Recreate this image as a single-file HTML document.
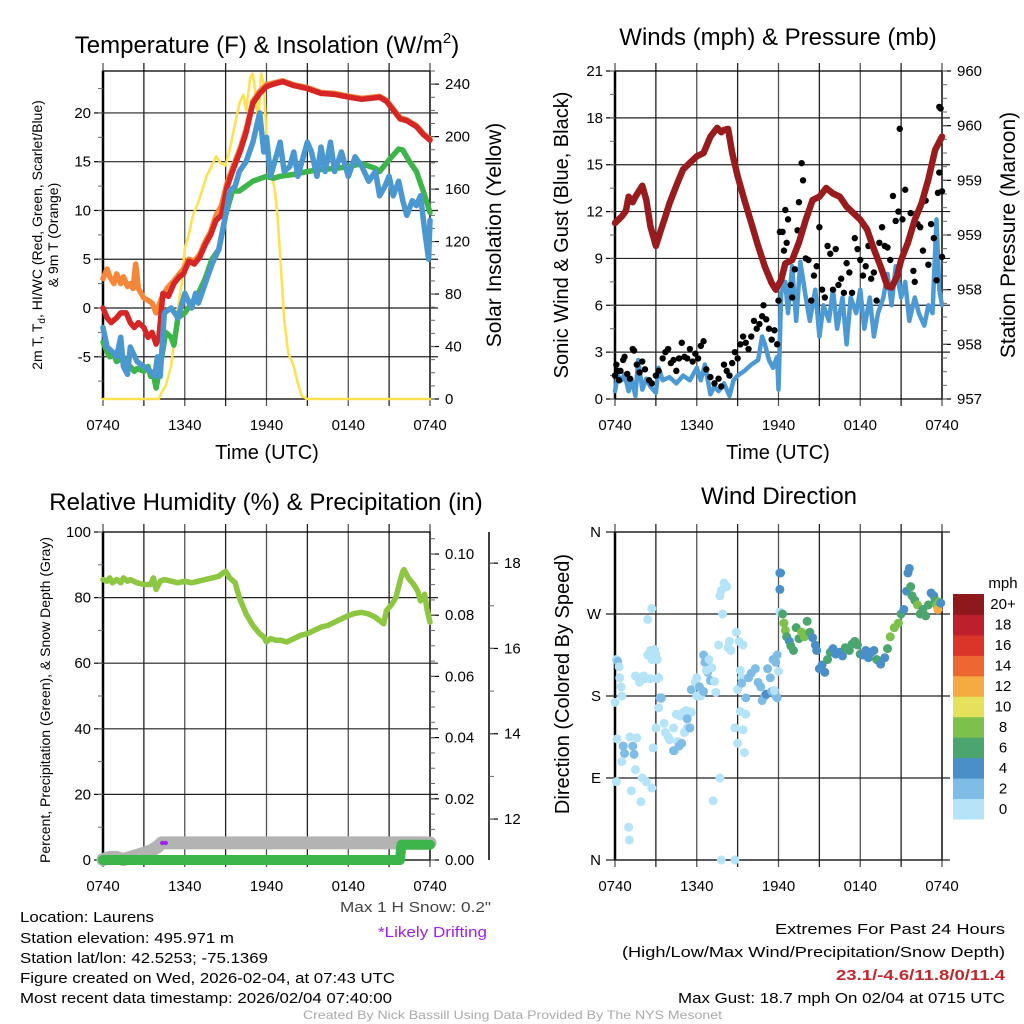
<!DOCTYPE html>
<html><head><meta charset="utf-8"><style>
html,body{margin:0;padding:0;background:#fff;}
svg{display:block;font-family:"Liberation Sans",sans-serif;}
</style></head><body>
<svg id="chart" width="1024" height="1024" viewBox="0 0 1024 1024" xmlns="http://www.w3.org/2000/svg">
<rect x="0" y="0" width="1024" height="1024" fill="#fff"/>
<text x="267" y="53" font-size="24" text-anchor="middle">Temperature (F) &amp; Insolation (W/m<tspan font-size="15" dy="-10">2</tspan><tspan dy="10">)</tspan></text>
<text x="778" y="45" font-size="24" text-anchor="middle">Winds (mph) &amp; Pressure (mb)</text>
<text x="266" y="510" font-size="24" text-anchor="middle">Relative Humidity (%) &amp; Precipitation (in)</text>
<text x="779" y="504" font-size="24" text-anchor="middle">Wind Direction</text>
<text x="267" y="459" font-size="20" text-anchor="middle">Time (UTC)</text>
<text x="778" y="459" font-size="20" text-anchor="middle">Time (UTC)</text>
<text transform="translate(42,235) rotate(-90)" font-size="14" text-anchor="middle">2m T, T<tspan font-size="10" dy="3">d</tspan><tspan dy="-3">, HI/WC (Red, Green, Scarlet/Blue)</tspan></text>
<text transform="translate(58,235) rotate(-90)" font-size="14" text-anchor="middle">&amp; 9m T (Orange)</text>
<text transform="translate(501,235) rotate(-90)" font-size="21" text-anchor="middle">Solar Insolation (Yellow)</text>
<text transform="translate(568,235) rotate(-90)" font-size="20" text-anchor="middle">Sonic Wind &amp; Gust (Blue, Black)</text>
<text transform="translate(1015,235) rotate(-90)" font-size="21" text-anchor="middle">Station Pressure (Maroon)</text>
<text transform="translate(50,700) rotate(-90)" font-size="14" text-anchor="middle">Percent, Precipitation (Green), &amp; Snow Depth (Gray)</text>
<text transform="translate(569,684) rotate(-90)" font-size="20" text-anchor="middle">Direction (Colored By Speed)</text>
<text x="1003" y="588" font-size="15" text-anchor="middle">mph</text>

<g font-size="15">
<text x="20" y="922" textLength="134" lengthAdjust="spacingAndGlyphs">Location: Laurens</text>
<text x="20" y="943" textLength="214" lengthAdjust="spacingAndGlyphs">Station elevation: 495.971 m</text>
<text x="20" y="963" textLength="248" lengthAdjust="spacingAndGlyphs">Station lat/lon: 42.5253; -75.1369</text>
<text x="20" y="983" textLength="375" lengthAdjust="spacingAndGlyphs">Figure created on Wed, 2026-02-04, at 07:43 UTC</text>
<text x="20" y="1003" textLength="372" lengthAdjust="spacingAndGlyphs">Most recent data timestamp: 2026/02/04 07:40:00</text>
<text x="340" y="912" textLength="151" lengthAdjust="spacingAndGlyphs" fill="#444">Max 1 H Snow: 0.2"</text>
<text x="378" y="937" textLength="109" lengthAdjust="spacingAndGlyphs" fill="#a020f0">*Likely Drifting</text>
<text x="1005" y="934" text-anchor="end" textLength="230" lengthAdjust="spacingAndGlyphs">Extremes For Past 24 Hours</text>
<text x="1005" y="957" text-anchor="end" textLength="383" lengthAdjust="spacingAndGlyphs">(High/Low/Max Wind/Precipitation/Snow Depth)</text>
<text x="1005" y="980" text-anchor="end" textLength="169" lengthAdjust="spacingAndGlyphs" font-weight="bold" fill="#c0282d">23.1/-4.6/11.8/0/11.4</text>
<text x="1005" y="1003" text-anchor="end" textLength="327" lengthAdjust="spacingAndGlyphs">Max Gust: 18.7 mph On 02/04 at 0715 UTC</text>
<text x="303" y="1019" font-size="12" textLength="419" lengthAdjust="spacingAndGlyphs" fill="#aaa">Created By Nick Bassill Using Data Provided By The NYS Mesonet</text>
</g>
</svg>
<script>
// ---------- DATA ----------
const timeTickLabels = ["0740","1340","1940","0140","0740"];
const tempTicks = [20,15,10,5,0,-5];
const solarTicks = [0,40,80,120,160,200,240];
const windTicks = [0,3,6,9,12,15,18,21];
const pressureTicks = [957,957.5,958,958.5,959,959.5,960];
const rhTicks = [0,20,40,60,80,100];
const precipTicks = [0,0.02,0.04,0.06,0.08,0.10];
const snowTicks = [12,14,16,18];
const dirTicks = [0,90,180,270,360];
const dirLabels = ["N","E","S","W","N"];
const speedBinLabels = ["0","2","4","6","8","10","12","14","16","18","20+"];
const speedBinColors = ["#b5e3f8","#7fbde6","#4a8fc8","#4ba56f","#7dc14c","#e5e15a","#f6aa42","#ee6631","#db3429","#bd1f2d","#8e191c"];

const redHours = [0,0.3,0.6,1,1.3,1.7,2,2.3,2.6,3,3.3,3.6,3.9,4.1,4.4,4.8,5.2,5.6,5.9,6.3,6.7,7.1,7.5,7.9,8.3,8.7,9.1,9.5,10.1,10.5,11,11.5,12,12.6,13.2,14,15,16,17,18.1,19,20.3,20.8,21.3,21.8,22.3,23,23.5,24];
const redValues = [0,-1,-1.5,-1,-0.5,-0.5,-1.5,-2,-1.5,-2,-3,-2.5,-3.7,-3,1.5,1.2,2.5,3.2,3.5,4.8,4.5,5.2,6.5,7.5,9,9.5,12.4,14,16.2,18,21,22,22.7,23,23.2,22.8,22.5,22,21.9,21.6,21.4,21.6,21.2,20.3,19.4,19.2,18.6,17.8,17.2];
const orangeHours = [0,0.3,0.5,0.8,1,1.3,1.5,1.8,2,2.2,2.4,2.6,3,3.3,3.6,3.9,4.3,4.7,5.2,5.6,5.9,6.3,6.7,7.1,7.5,7.9,8.3,8.7,9.1,9.5,10.1,10.5,11,11.5,12,12.6,13.2,14,15,16,17,18.1,19,20.3,20.8,21.3,21.8,22.3,23,23.5,24];
const orangeValues = [3,4,3.2,2.5,3.5,2.5,3.2,2.2,2.5,2,4.5,2,1,0.8,0.5,-0.5,1,2,2.8,3.5,4,5,4.8,5.5,6.8,7.8,9.5,10.5,12.8,14.3,16.5,18.3,21.2,22.2,22.9,23.1,23.3,22.9,22.6,22.1,22,21.7,21.5,21.7,21.3,20.4,19.5,19.3,18.7,17.9,17.3];
const greenHours = [0,0.3,0.5,0.8,1,1.3,1.5,1.8,2,2.3,2.5,3,3.3,3.5,3.7,3.9,4.2,4.6,5,5.2,5.5,6,6.5,7,7.5,8,8.5,9,9.5,10,11,12,12.5,13,14,15,16,17,18,19,20,20.3,21,21.7,22,22.5,23,23.5,24];
const greenValues = [-3.5,-4.5,-5,-4.8,-5.5,-5.2,-5,-6,-6,-6.5,-6.2,-6.5,-6,-7,-6.8,-8.2,-6,-2.5,-3,-3.8,-1,-0.5,0.5,1.5,3,5,6,9.5,12,12,13,13.5,13.3,13.5,13.7,14,14.2,14.3,14.5,14.8,14.3,14,15.2,16.3,16.2,15,14,12,9.8];
const blueHours = [0,0.3,0.7,1,1.3,1.5,1.8,2,2.5,3,3.5,3.8,4,4.2,4.5,5,5.5,6,6.5,6.8,7,7.5,8,8.5,9,9.3,9.7,10,10.5,11,11.5,11.8,12,12.3,12.8,13,13.3,13.7,14,14.3,14.7,15,15.3,15.7,16,16.3,16.7,17,17.5,18,18.5,19,19.5,20,20.3,20.7,21,21.3,21.7,22,22.3,22.7,23,23.3,23.6,23.9,24];
const blueValues = [-2,-4,-4.5,-5,-3,-6,-6.8,-4,-5.5,-6,-6.5,-7,-5,-7,-0.5,0,-1,1.5,0,1.5,0.5,2.5,4.5,6,9.5,12,12.5,14,15,17,20,16,17.5,13.5,16,17,14,14.5,16,13.5,15.5,17,16,13.5,16.5,14,17,14,16,13.5,15.5,14.5,13,14,11.5,12.5,13.5,11.5,13,11,9.5,11,10.5,11.5,8,5,9];
const solarHours = [0,4.1,4.3,4.6,5,5.3,5.5,5.8,6,6.3,6.6,7,7.3,7.6,8,8.3,8.6,9,9.3,9.7,10,10.3,10.5,10.8,11,11.2,11.4,11.6,11.8,12,12.3,12.6,12.8,13,13.3,13.6,14,14.3,14.6,15,24];
const solarValues = [0,0,5,10,25,50,70,90,115,125,140,150,160,170,178,185,180,178,190,210,225,232,220,245,248,232,210,248,240,200,175,160,140,110,60,35,25,12,2,0,0];

const windHours = [0,0.2,0.5,0.7,1,1.2,1.5,1.7,2,2.3,2.6,3,3.2,3.5,4,4.5,5,5.5,6,6.3,6.6,7,7.3,7.6,8,8.4,8.7,9,9.5,10,10.5,10.8,11,11.3,11.6,11.9,12,12.2,12.5,12.7,13,13.3,13.6,14,14.3,14.7,15,15.3,15.7,16,16.3,16.7,17,17.3,17.7,18,18.3,18.7,19,19.3,19.7,20,20.3,20.6,21,21.3,21.6,22,22.3,22.7,23,23.3,23.6,23.8,24];
const windValues = [0.5,1.5,1.2,1.6,0.5,1.3,0.2,2.5,0.6,1.3,0.8,0.4,2,1.2,1.4,1,1.5,1.2,2,1.2,2.2,0.3,0.8,0.5,1,0.2,1.2,1.5,1.8,2.2,2.5,4,3.5,2.5,2,2.7,0.6,6.8,7.5,5.5,8.5,5,8.8,6.5,5,7,4,6,5,7,4.5,6.5,3.5,6.5,5.5,7,4.5,6.5,4,5.5,6.5,8,6,8.5,6.5,7.5,5,6.5,5.5,4.7,6,5.5,11.5,7,6];
const gustHours = [0,0.1,0.2,0.3,0.4,0.6,0.7,0.9,1.1,1.3,1.4,1.6,1.8,2,2.2,2.5,2.7,3,3.2,3.5,3.7,3.9,4.1,4.3,4.5,4.7,4.9,5.1,5.3,5.5,5.7,5.9,6.1,6.3,6.5,6.7,7,7.3,7.6,7.8,8,8.2,8.4,8.6,8.8,9,9.2,9.4,9.6,9.8,10,10.2,10.4,10.6,10.8,10.9,11.1,11.3,11.5,11.7,11.9,12,12.1,12.3,12.4,12.5,12.6,12.7,12.9,13,13.2,13.4,13.5,13.7,13.8,14,14.2,14.4,14.6,14.8,15,15.2,15.4,15.6,15.8,16,16.2,16.4,16.6,16.8,17,17.2,17.4,17.6,17.8,18,18.2,18.4,18.6,18.8,19,19.2,19.4,19.6,19.8,20,20.2,20.4,20.6,20.8,20.9,21.1,21.3,21.5,21.7,21.9,22,22.2,22.4,22.6,22.8,23,23.2,23.4,23.6,23.7,23.8,23.8,23.9,24,24];
const gustValues = [1.5,2.2,1.8,1.2,1.8,2.5,2.7,1.6,1.3,3.2,3.1,2.2,1.7,2.4,1.9,1.2,1,1.5,1.8,2.6,3,3.2,2.3,2.5,1.8,2.6,3.6,2.7,2.6,3.2,2.4,2.9,2.6,3.4,3.7,1.9,1.4,1,1.3,0.8,2.2,1.8,1.5,2.3,3,2.6,3.5,4,3.6,3.2,4,5,4.5,4.8,5.3,6,5.1,4.5,3.8,4.4,3.5,6.3,10.7,10.7,9.5,12.1,10,11.5,7.3,6.5,8.3,10.8,12.6,15.1,14,9,8.9,6.3,7.9,8.5,11,7,6.5,9.8,9.3,7,9.6,7.3,7.7,6.8,8.7,8.1,6.8,10.3,9.6,8.9,7.9,8.5,9.8,7.7,8.1,6.3,10,11,9.8,9.7,8.9,13,11.4,12,17.3,11.5,13.4,10,11.9,8.2,7.5,11.2,11,9.5,12.7,8.6,11.2,10.3,7.6,13.2,14.5,18.7,18.6,13.3,9.1];
const pressureHours = [0,0.5,0.8,1,1.3,1.5,2,2.3,2.6,3,3.3,3.7,4,4.5,5,5.5,6,6.5,7,7.5,7.8,8,8.3,8.6,9,9.5,10,10.5,11,11.5,11.8,12.2,12.5,13,13.5,14,14.5,15,15.5,16,16.5,17,17.5,18,18.5,19,19.5,20,20.3,20.7,21,21.5,22,22.5,23,23.5,24];
const pressureValues = [958.61,958.67,958.72,958.85,958.8,958.85,958.95,958.82,958.58,958.4,958.52,958.67,958.79,958.95,959.1,959.16,959.22,959.25,959.4,959.48,959.44,959.46,959.47,959.25,959.04,958.82,958.61,958.4,958.21,958.06,958.0,958.09,958.24,958.27,958.43,958.64,958.82,958.85,958.93,958.88,958.85,958.76,958.7,958.64,958.55,958.37,958.21,958.03,958.02,958.12,958.27,958.43,958.64,958.79,959.01,959.28,959.4];

const rhHours = [0,0.3,0.5,0.7,1,1.3,1.5,1.8,2,2.5,3,3.5,3.7,3.9,4.2,4.5,5,5.5,6,6.5,7,7.5,8,8.5,8.8,9,9.3,9.7,10,10.5,11,11.5,11.8,12,12.3,12.7,13,13.5,14,14.5,15,15.5,16,16.5,17,17.5,18,18.5,19,19.5,20,20.3,20.6,20.8,21.2,21.5,21.8,22,22.1,22.4,22.8,23.1,23.3,23.6,23.8,24];
const rhValues = [85.5,85,86,84.5,85.5,84.5,86,85,85.5,84.5,84,84,86,82.5,85,85.5,85,84.5,85,84.5,85,85.5,86,86.5,87.5,88,86,84.5,80,75,71.5,69,68,66.5,67.5,67,67,66.5,67.5,68.5,69,70,71,71.5,72.5,73.5,74.5,75.2,75.5,75,74,73,72,76,78,80,85,88,88.5,86,84,82,79,81,76,72.5];
const snowHours = [0,0.5,1,1.5,2,2.5,3,3.5,4,4.3,24];
const snowValues = [11.05,11.1,11.1,11.05,11.1,11.15,11.2,11.25,11.35,11.44,11.44];
const precipHours = [0,21.8,21.9,24];
const precipValues = [0,0,0.005,0.005];
const driftHours = [4.35,4.6];
const driftValues = [11.44,11.44];

const dirHours = [0,0.1,0.2,0.3,0.35,0.45,0.5,0.15,0.1,0.6,0.7,0.5,1.3,1.4,1.1,1.6,1.5,1.2,1.9,1.0,1.05,2,2.3,2.7,2.8,3,3.2,3.4,3.6,3.2,3.1,2.2,2.6,2.1,1.8,1.5,2.4,2.6,2.9,2.7,3.0,2.4,2.7,3.1,3.3,3.4,3.7,3.9,4,4.3,4.4,4.6,4.7,4.9,4.3,4.5,4.8,5,5.2,5.4,5.6,5.1,5.3,5.5,5.3,5.6,5.9,6.0,6.1,6.3,6.0,6.2,6.5,6.5,6.6,6.8,7.0,6.7,6.9,7.1,7.3,7.4,7.6,7.7,7.8,7.9,8.2,8.0,7.7,8.4,8.3,8.5,8.9,9.1,9.2,9.4,9.0,9.3,9.5,9.4,9.6,8.8,7.2,7.8,8.8,9.0,9.2,9.6,9.3,9.8,10,10.3,10.5,10.7,10.8,11,11.1,11.2,11.4,11.6,11.8,11.9,11.5,11.8,12,11.9,11.7,12.1,12.15,12.1,12.1,12.3,12.4,12.5,12.6,12.8,12.9,13.1,13.3,13.5,13.7,13.9,14.1,14.3,14.5,14.7,14.8,15.0,15.2,15.4,15.6,15.8,16,16.2,16.5,16.7,16.9,17.2,17.4,17.6,17.8,18,18.2,18.4,18.6,18.8,19,19.2,19.5,19.8,20,20.2,20.5,20.8,21,21.2,21.4,21.5,21.6,21.7,21.8,22,22.2,22.4,22.6,22.8,23,23.2,23.4,23.5,23.6,23.7,23.8,23.9];
const dirDegrees = [173,220,218,212,200,190,180,133,86,125,117,108,125,116,135,134,99,76,64,36,22,90,86,79,123,145,167,177,150,200,199,199,199,202,195,202,225,230,231,220,226,264,276,220,178,178,140,135,132,145,120,130,125,128,120,160,158,162,164,163,162,140,145,145,155,187,195,180,191,180,200,190,185,225,217,206,197,208,220,211,196,184,236,290,296,270,300,304,90,240,233,230,250,240,208,236,187,200,118,143,160,145,65,0,0,128,163,178,194,200,205,210,195,190,175,180,182,210,200,220,217,225,185,180,207,178,186,315,315,297,272,270,260,252,245,240,235,230,255,243,250,245,262,250,244,236,230,210,214,206,220,228,232,226,228,224,233,230,237,240,236,226,225,230,222,228,230,220,215,222,232,245,255,260,270,275,295,315,320,300,290,285,280,270,275,268,280,293,290,285,280,275,283,282];
const dirSpeeds = [1,1,3,1,1,1,1,1,1,3,3,1,3,3,1,1,1,1,1,1,1,1,1,1,1,1,1,1,1,1,1,1,1,1,1,1,1,1,1,1,1,1,1,1,3,3,1,1,1,1,1,1,3,3,3,1,1,1,1,1,1,1,1,3,3,3,1,1,1,1,1,3,3,3,3,3,3,1,1,1,1,1,1,1,1,1,1,1,1,1,1,1,1,1,1,1,1,1,1,1,1,1,1,1,1,1,1,3,3,3,3,3,3,3,3,3,4,3,3,3,3,3,3,3,1,3,1,4,4,4,1,6,8,8,6,4,6,6,6,6,8,8,6,6,4,4,4,4,4,4,6,6,4,4,4,4,6,6,6,6,6,6,4,4,4,4,4,6,4,4,6,8,8,8,6,4,4,4,4,6,6,6,8,6,6,6,6,4,4,6,8,12,8,4,6];

// ---------- DRAWING ----------
const NS = 'http://www.w3.org/2000/svg';
const svg = document.getElementById('chart');
function mk(tag, attrs, parent) {
  const e = document.createElementNS(NS, tag);
  for (const k in attrs) e.setAttribute(k, attrs[k]);
  (parent || svg).appendChild(e);
  return e;
}
function lin(d0, d1, r0, r1) { return v => r0 + (v - d0) / (d1 - d0) * (r1 - r0); }

function drawFrame(p, name) {
  const xs = lin(0, 24, p.x0, p.x1);
  const g = mk('g', {});
  
  
  for (let h = 0; h <= 24; h += 3) {
    const ln = mk('line', {x1: xs(h), x2: xs(h), y1: p.y0 - 8, y2: p.y1 + 7, stroke: (h % 6 ? '#222' : '#555'), 'stroke-width': 1.3}, g);
    
    
  }
  for (let i = 0; i < timeTickLabels.length; i++) {
    const t = mk('text', {x: xs(i * 6), y: p.y1 + 31, 'font-size': 15, 'text-anchor': 'middle'}, g);
    t.textContent = timeTickLabels[i];
    
    
  }
  const box = mk('rect', {x: p.x0, y: p.y0, width: p.x1 - p.x0, height: p.y1 - p.y0, fill: 'none', stroke: '#000', 'stroke-width': 1.3}, g);
  
  
  const la = mk('line', {x1: p.x0, x2: p.x0, y1: p.y0, y2: p.y1, stroke: '#000', 'stroke-width': 2.5}, g);
  
  
  return xs;
}
function leftAxis(p, name, ys, ticks, labels, minorStep, domain, grid) {
  for (let i = 0; i < ticks.length; i++) {
    const y = ys(ticks[i]);
    if (grid && y > p.y0 + 1 && y < p.y1 - 1) {
      const gl = mk('line', {x1: p.x0, x2: p.x1 + 8, y1: y, y2: y, stroke: '#222', 'stroke-width': 1.2});
      
      
    }
    const tk = mk('line', {x1: p.x0 - 9, x2: p.x0, y1: y, y2: y, stroke: '#000', 'stroke-width': 1.2});
    
    
    const t = mk('text', {x: p.x0 - 12, y: y + 5, 'font-size': 15, 'text-anchor': 'end'});
    t.textContent = labels[i];
    
    
  }
  if (minorStep) {
    for (let v = domain[0]; v <= domain[1] + 1e-9; v += minorStep) {
      const y = ys(v);
      if (y < p.y0 - 0.5 || y > p.y1 + 0.5) continue;
      const mt = mk('line', {x1: p.x0 - 5, x2: p.x0, y1: y, y2: y, stroke: '#666', 'stroke-width': 1});
      
      
    }
  }
}
function rightAxis(ax, p, name, ys, ticks, labels, minorStep, minorStart, minorEnd) {
  for (let i = 0; i < ticks.length; i++) {
    const y = ys(ticks[i]);
    const tk = mk('line', {x1: ax, x2: ax + 9, y1: y, y2: y, stroke: '#000', 'stroke-width': 1.2});
    
    
    const t = mk('text', {x: ax + 15, y: y + 5, 'font-size': 15});
    t.textContent = labels[i];
    
    
  }
  for (let v = minorStart; v <= minorEnd + 1e-9; v += minorStep) {
    const y = ys(v);
    if (y < p.y0 - 0.5 || y > p.y1 + 0.5) continue;
    const mt = mk('line', {x1: ax, x2: ax + 5, y1: y, y2: y, stroke: '#666', 'stroke-width': 1});
    
    
  }
}
function series(xs, ys, hours, vals, color, w, name) {
  const pts = hours.map((h, i) => xs(h).toFixed(1) + ',' + ys(vals[i]).toFixed(1)).join(' ');
  const pl = mk('polyline', {points: pts, fill: 'none', stroke: color, 'stroke-width': w, 'stroke-linejoin': 'round', 'stroke-linecap': 'round'});
  
  
}

// Panel 1: temperature
const P1 = {x0: 103, x1: 430, y0: 71, y1: 399};
const xs1 = drawFrame(P1, 'temperature');
const yT = lin(-9.33, 24.3, P1.y1, P1.y0);
const yS = lin(0, 250, P1.y1, P1.y0);
leftAxis(P1, 'temperature', yT, tempTicks, tempTicks.map(String), 2.5, [-7.5, 22.5], true);
rightAxis(P1.x1, P1, 'insolation', yS, solarTicks, solarTicks.map(String), 10, 0, 250);
series(xs1, yS, solarHours, solarValues, '#ffe04d', 2.5, 'solar-insolation-line');
series(xs1, yT, greenHours, greenValues, '#3db54a', 5.5, 'dewpoint-line');
series(xs1, yT, orangeHours, orangeValues, '#f5873a', 5.5, 'temp-9m-line');
series(xs1, yT, redHours, redValues, '#d52524', 5.5, 'temp-2m-line');
series(xs1, yT, blueHours, blueValues, '#4b97d0', 5.5, 'heat-index-windchill-line');

// Panel 2: winds
const P2 = {x0: 615, x1: 942, y0: 71, y1: 399};
const xs2 = drawFrame(P2, 'winds');
const yW = lin(0, 21, P2.y1, P2.y0);
const yP = lin(957, 960, P2.y1, P2.y0);
leftAxis(P2, 'winds', yW, windTicks, windTicks.map(String), 1.5, [0, 21], true);
rightAxis(P2.x1, P2, 'pressure', yP, pressureTicks, pressureTicks.map(v => String(Math.round(v + 0.001))), 0.125, 957, 960);
series(xs2, yW, windHours, windValues, '#4d99d3', 4.5, 'sonic-wind-line');
for (let i = 0; i < gustHours.length; i++) {
  const c = mk('circle', {cx: xs2(gustHours[i]), cy: yW(gustValues[i]), r: 3.2, fill: '#000'});
  
  
}
series(xs2, yP, pressureHours, pressureValues, '#981b1e', 6.5, 'station-pressure-line');

// Panel 3: humidity
const P3 = {x0: 103, x1: 430, y0: 532, y1: 860};
const xs3 = drawFrame(P3, 'humidity');
const yR = lin(0, 100, P3.y1, P3.y0);
const yPr = lin(0, 0.1072, P3.y1, P3.y0);
const ySn = lin(11.04, 18.73, P3.y1, P3.y0);
leftAxis(P3, 'humidity', yR, rhTicks, rhTicks.map(String), 10, [0, 100], true);
rightAxis(P3.x1, P3, 'precipitation', yPr, precipTicks, precipTicks.map(v => v.toFixed(2)), 0.005, 0, 0.105);
const ax2 = mk('line', {x1: 489, x2: 489, y1: P3.y0, y2: P3.y1, stroke: '#000', 'stroke-width': 1.5});


rightAxis(489, P3, 'snow-depth', ySn, snowTicks, snowTicks.map(String), 1, 11, 18.73);
series(xs3, ySn, snowHours, snowValues, '#b3b3b3', 13, 'snow-depth-line');
for (let i = 0; i < driftHours.length; i++) {
  const c = mk('circle', {cx: xs3(driftHours[i]), cy: ySn(driftValues[i]), r: 2.2, fill: '#a020f0'});
  
  
}
series(xs3, yPr, precipHours, precipValues, '#3db54a', 10, 'precipitation-line');
series(xs3, yR, rhHours, rhValues, '#8dc641', 5.5, 'relative-humidity-line');

// Panel 4: wind direction
const P4 = {x0: 615, x1: 942, y0: 532, y1: 860};
const xs4 = drawFrame(P4, 'direction');
const yD = lin(0, 360, P4.y1, P4.y0);
for (let i = 0; i < dirTicks.length; i++) {
  const y = yD(dirTicks[i]);
  const gl = mk('line', {x1: P4.x0 - 9, x2: P4.x1 + 8, y1: y, y2: y, stroke: '#222', 'stroke-width': 1.2});
  
  
  const t = mk('text', {x: P4.x0 - 14, y: y + 5, 'font-size': 15, 'text-anchor': 'end'});
  t.textContent = dirLabels[i];
  
  
}
for (let i = 0; i < dirHours.length; i++) {
  const bin = Math.min(10, Math.floor(dirSpeeds[i] / 2));
  const c = mk('circle', {cx: xs4(dirHours[i]), cy: yD(dirDegrees[i]), r: 4.5, fill: speedBinColors[bin]});
  
  
}
// colorbar
const cbTop = 594, cbBot = 819, cbX = 953, cbW = 31;
const binH = (cbBot - cbTop) / speedBinColors.length;
for (let i = 0; i < speedBinColors.length; i++) {
  const y = cbBot - (i + 1) * binH;
  const r = mk('rect', {x: cbX, y: y, width: cbW, height: binH + 0.5, fill: speedBinColors[i]});
  
  
  const t = mk('text', {x: 1003, y: y + binH / 2 + 5, 'font-size': 15, 'text-anchor': 'middle'});
  t.textContent = speedBinLabels[i];
  
  
}
</script>
</body></html>
